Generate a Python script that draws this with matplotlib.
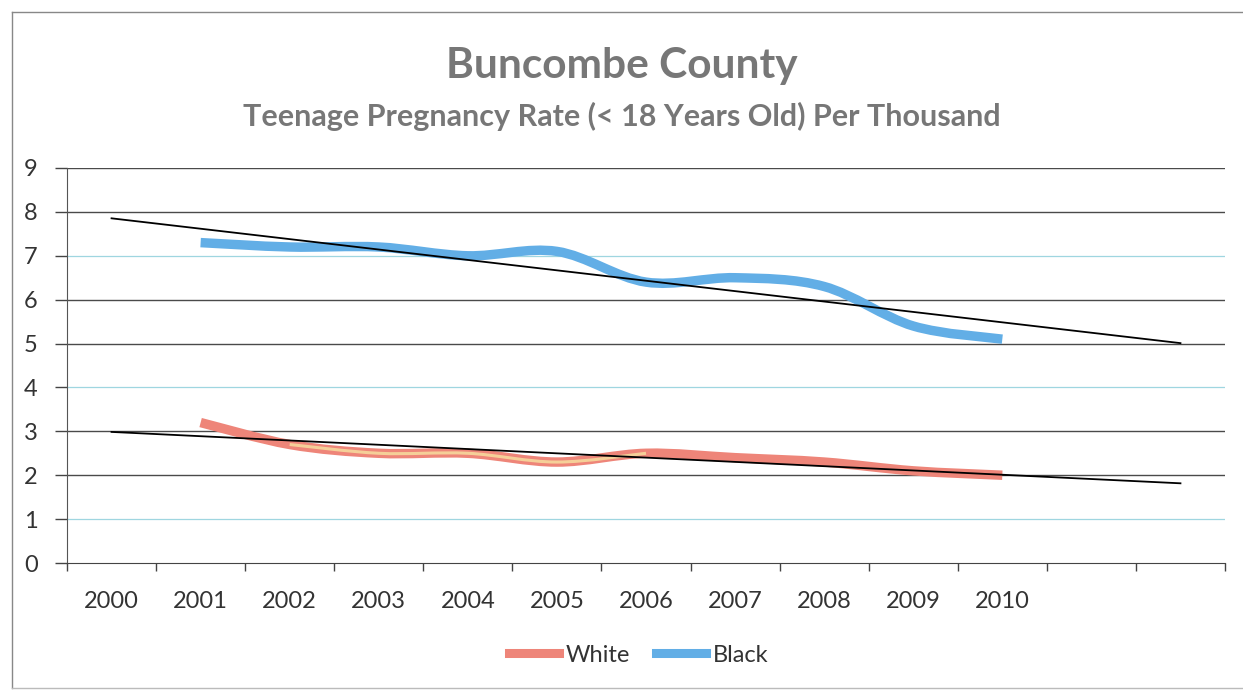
import matplotlib.pyplot as plt
import numpy as np
from matplotlib.lines import Line2D
from matplotlib.path import Path
from matplotlib.patches import PathPatch

# ── Data ──────────────────────────────────────────────────────────────
years = ["2000", "2001", "2002", "2003", "2004", "2005",
         "2006", "2007", "2008", "2009", "2010", "", ""]
data_years = [2001, 2002, 2003, 2004, 2005, 2006, 2007, 2008, 2009, 2010]
white = [3.2, 2.7, 2.5, 2.5, 2.3, 2.5, 2.4, 2.3, 2.1, 2.0]
black = [7.3, 7.2, 7.2, 7.0, 7.1, 6.4, 6.5, 6.3, 5.4, 5.1]
trend_span = (2000, 2012)  # backward 1, forward 2 periods

WHITE_COL = "#ee8579"
BLACK_COL = "#62aee6"
FONT = ["Lato", "DejaVu Sans"]


def smooth_path(x, y):
    """Catmull-Rom -> cubic Bezier, like Excel's smoothed line."""
    x = np.asarray(x, float)
    y = np.asarray(y, float)
    pts = np.column_stack([x, y])
    verts = [pts[0]]
    codes = [Path.MOVETO]
    for i in range(len(pts) - 1):
        p0 = pts[i - 1] if i > 0 else pts[i]
        p1, p2 = pts[i], pts[i + 1]
        p3 = pts[i + 2] if i + 2 < len(pts) else pts[i + 1]
        c1 = p1 + (p2 - p0) / 6
        c2 = p2 - (p3 - p1) / 6
        verts += [c1, c2, p2]
        codes += [Path.CURVE4] * 3
    return Path(verts, codes)


fig = plt.figure(figsize=(12.43, 6.91), dpi=100)
ax = fig.add_axes([67 / 1243, 1 - 563 / 691, (1225 - 67) / 1243, (563 - 168) / 691])

# category positions: index i -> centre at i + 0.5
xpos = np.array(data_years) - 2000 + 0.5

# gridlines (scan gives some a cyan tint)
for v in range(1, 10):
    col = "#9fd6e0" if v in (1, 4, 7) else "#4a4a4a"
    lw = 0.9 if v in (1, 4, 7) else 1.0
    ax.axhline(v, color=col, lw=lw, zorder=1)

for vals, col in [(white, WHITE_COL), (black, BLACK_COL)]:
    ax.add_patch(PathPatch(smooth_path(xpos, vals), fill=False, edgecolor=col,
                           lw=6.8, capstyle="butt", joinstyle="round", zorder=3))
# faint yellow inner streak on the white series
ax.add_patch(PathPatch(smooth_path(xpos[1:6], white[1:6]), fill=False,
                       edgecolor="#f7e3a0", lw=2.2, alpha=0.8, zorder=3.5))

# linear trendlines
tx = np.array(trend_span) - 2000 + 0.5
for vals in (white, black):
    k, b = np.polyfit(xpos, vals, 1)
    ax.plot(tx, k * tx + b, color="black", lw=1.3, zorder=4)

ax.set_xlim(0, len(years))
ax.set_ylim(0, 9)
ax.set_yticks(range(10))
ax.set_xticks(np.arange(len(years) + 1))
ax.set_xticklabels([])
ax.set_xticks(np.arange(len(years)) + 0.5, minor=True)
ax.set_xticklabels(years, minor=True)
ax.tick_params(axis="x", which="major", length=6, color="#444444", width=1)
ax.tick_params(axis="x", which="minor", length=0, pad=20)
ax.tick_params(axis="y", length=9, color="#444444", width=1, pad=12)
for lab in ax.get_xticklabels(minor=True) + ax.get_yticklabels():
    lab.set_family(FONT)
    lab.set_fontsize(17)
    lab.set_color("#333333")

for s in ("top", "right"):
    ax.spines[s].set_visible(False)
ax.spines["left"].set_color("#555555")
ax.spines["bottom"].set_color("#444444")

fig.text(0.5, 1 - 66 / 691, "Buncombe County", ha="center", va="center",
         family=FONT, fontsize=30.5, fontweight="bold", color="#777777")
fig.text(0.5, 1 - 116 / 691, "Teenage Pregnancy Rate (< 18 Years Old) Per Thousand",
         ha="center", va="center", family=FONT, fontsize=22,
         fontweight="bold", color="#777777")

handles = [Line2D([], [], color=WHITE_COL, lw=6.5), Line2D([], [], color=BLACK_COL, lw=6.5)]
leg = fig.legend(handles, ["White", "Black"], loc="center", ncol=2,
                 bbox_to_anchor=(0.514, 1 - 655 / 691), frameon=False,
                 prop={"family": FONT, "size": 17}, handlelength=2.1,
                 columnspacing=1.1, handletextpad=0.3)
for t in leg.get_texts():
    t.set_color("#333333")

# chart border (left, top, bottom)
fig.add_artist(Line2D([12 / 1243, 12 / 1243], [1 - 12 / 691, 1 - 688 / 691],
                      color="#888888", lw=1))
fig.add_artist(Line2D([12 / 1243, 1], [1 - 12 / 691, 1 - 12 / 691],
                      color="#888888", lw=1))
fig.add_artist(Line2D([12 / 1243, 1], [1 - 688 / 691, 1 - 688 / 691],
                      color="#bbbbbb", lw=1))

fig.savefig("out.png", dpi=100)
